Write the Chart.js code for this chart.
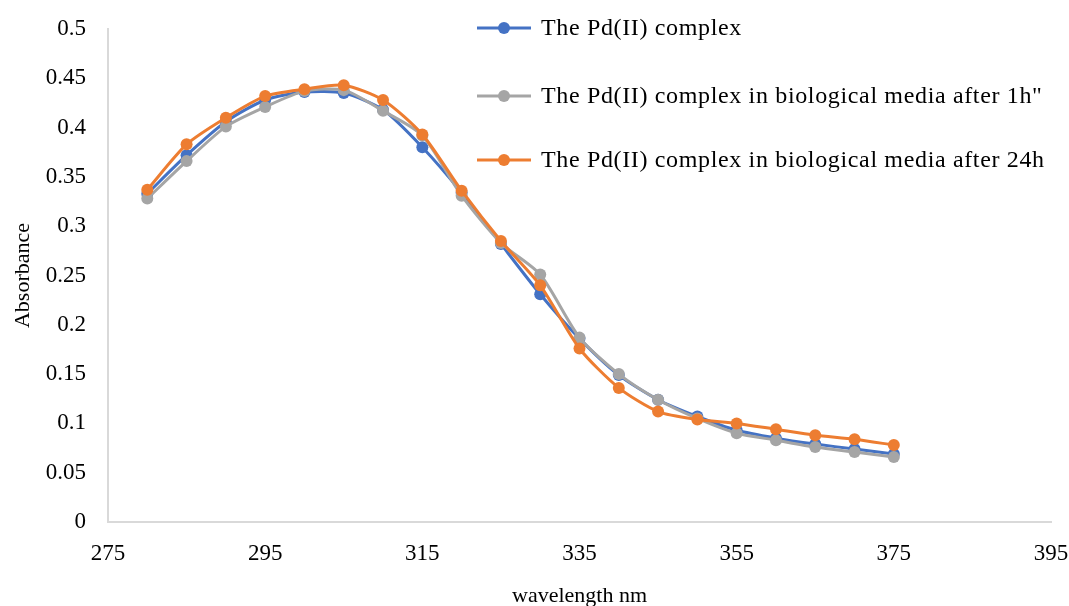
<!DOCTYPE html>
<html>
<head>
<meta charset="utf-8">
<script src="https://cdn.jsdelivr.net/npm/chart.js@4.4.1/dist/chart.umd.min.js"></script>
<style>
  html, body { margin: 0; padding: 0; background: #fff; }
  #wrap { width: 1069px; height: 606px; position: relative; }
</style>
</head>
<body>
<div id="wrap"><canvas id="uvChart"></canvas></div>
<script>
const wavelengths = [280, 285, 290, 295, 300, 305, 310, 315, 320, 325, 330, 335, 340, 345, 350, 355, 360, 365, 370, 375];

const pdComplex = [0.333, 0.372, 0.406, 0.428, 0.436, 0.435, 0.418, 0.380, 0.334, 0.282, 0.231, 0.186, 0.149, 0.124, 0.107, 0.093, 0.085, 0.079, 0.074, 0.069];
const pdMedia1h = [0.328, 0.366, 0.401, 0.421, 0.437, 0.438, 0.417, 0.392, 0.331, 0.283, 0.251, 0.187, 0.150, 0.124, 0.105, 0.090, 0.083, 0.076, 0.071, 0.066];
const pdMedia24h = [0.337, 0.383, 0.410, 0.432, 0.439, 0.443, 0.428, 0.393, 0.336, 0.285, 0.240, 0.176, 0.136, 0.112, 0.104, 0.100, 0.094, 0.088, 0.084, 0.078];

const seriesLabels = [
  'The Pd(II) complex',
  'The Pd(II) complex in biological media after 1h"',
  'The Pd(II) complex in biological media after 24h'
];
const seriesColors = ['#4472C4', '#A5A5A5', '#ED7D31'];

const font = "'Liberation Serif', 'Times New Roman', serif";

function pts(values) {
  return wavelengths.map((x, i) => ({ x, y: values[i] }));
}

function makeSet(i, values, order) {
  return {
    label: seriesLabels[i],
    data: pts(values),
    borderColor: seriesColors[i],
    backgroundColor: seriesColors[i],
    borderWidth: 3,
    pointRadius: 6,
    pointBorderWidth: 0,
    pointHoverRadius: 6,
    tension: 0.25,
    order
  };
}

// legend drawn inside the plot, like the original
const innerLegend = {
  id: 'innerLegend',
  afterDraw(chart) {
    const ctx = chart.ctx;
    const rows = [28, 96, 160];
    ctx.save();
    chart.data.datasets.forEach((ds, i) => {
      const y = rows[i];
      ctx.strokeStyle = ds.borderColor;
      ctx.lineWidth = 3;
      ctx.beginPath();
      ctx.moveTo(477, y);
      ctx.lineTo(531, y);
      ctx.stroke();
      ctx.fillStyle = ds.borderColor;
      ctx.beginPath();
      ctx.arc(504, y, 6, 0, Math.PI * 2);
      ctx.fill();
      ctx.fillStyle = '#000';
      ctx.font = '24px ' + font;
      ctx.textBaseline = 'middle';
      ctx.letterSpacing = '0.65px';
      ctx.fillText(ds.label, 541, y + 1);
    });
    ctx.restore();
  }
};

new Chart(document.getElementById('uvChart'), {
  type: 'line',
  data: {
    datasets: [
      makeSet(0, pdComplex, 3),
      makeSet(1, pdMedia1h, 2),
      makeSet(2, pdMedia24h, 1)
    ]
  },
  options: {
    responsive: true,
    maintainAspectRatio: false,
    animation: false,
    layout: { padding: { top: 29, right: 0, left: 0, bottom: 0 } },
    plugins: {
      legend: { display: false },
      tooltip: { enabled: false }
    },
    scales: {
      x: {
        type: 'linear',
        min: 275,
        max: 395,
        ticks: { stepSize: 20, color: '#000', padding: 18, font: { family: font, size: 23 } },
        grid: { display: false, drawTicks: false },
        border: { color: '#D9D9D9', width: 2 },
        title: { display: true, text: 'wavelength nm', color: '#000', font: { family: font, size: 22 }, padding: { top: 0, bottom: -3 } },
        afterFit(scale) {
          scale.height = 84;
          scale.paddingLeft = 0;
          scale.paddingRight = 18;
        }
      },
      y: {
        min: 0,
        max: 0.5,
        ticks: {
          stepSize: 0.05,
          color: '#000',
          padding: 22,
          font: { family: font, size: 23 },
          callback: v => String(Math.round(v * 100) / 100)
        },
        grid: { display: false, drawTicks: false },
        border: { color: '#D9D9D9', width: 2 },
        title: { display: true, text: 'Absorbance', color: '#000', font: { family: font, size: 22 }, padding: { top: 10, bottom: 0 } },
        afterFit(scale) {
          scale.width = 108;
          scale.paddingTop = 0;
          scale.paddingBottom = 0;
        }
      }
    }
  },
  plugins: [innerLegend]
});
</script>
</body>
</html>
